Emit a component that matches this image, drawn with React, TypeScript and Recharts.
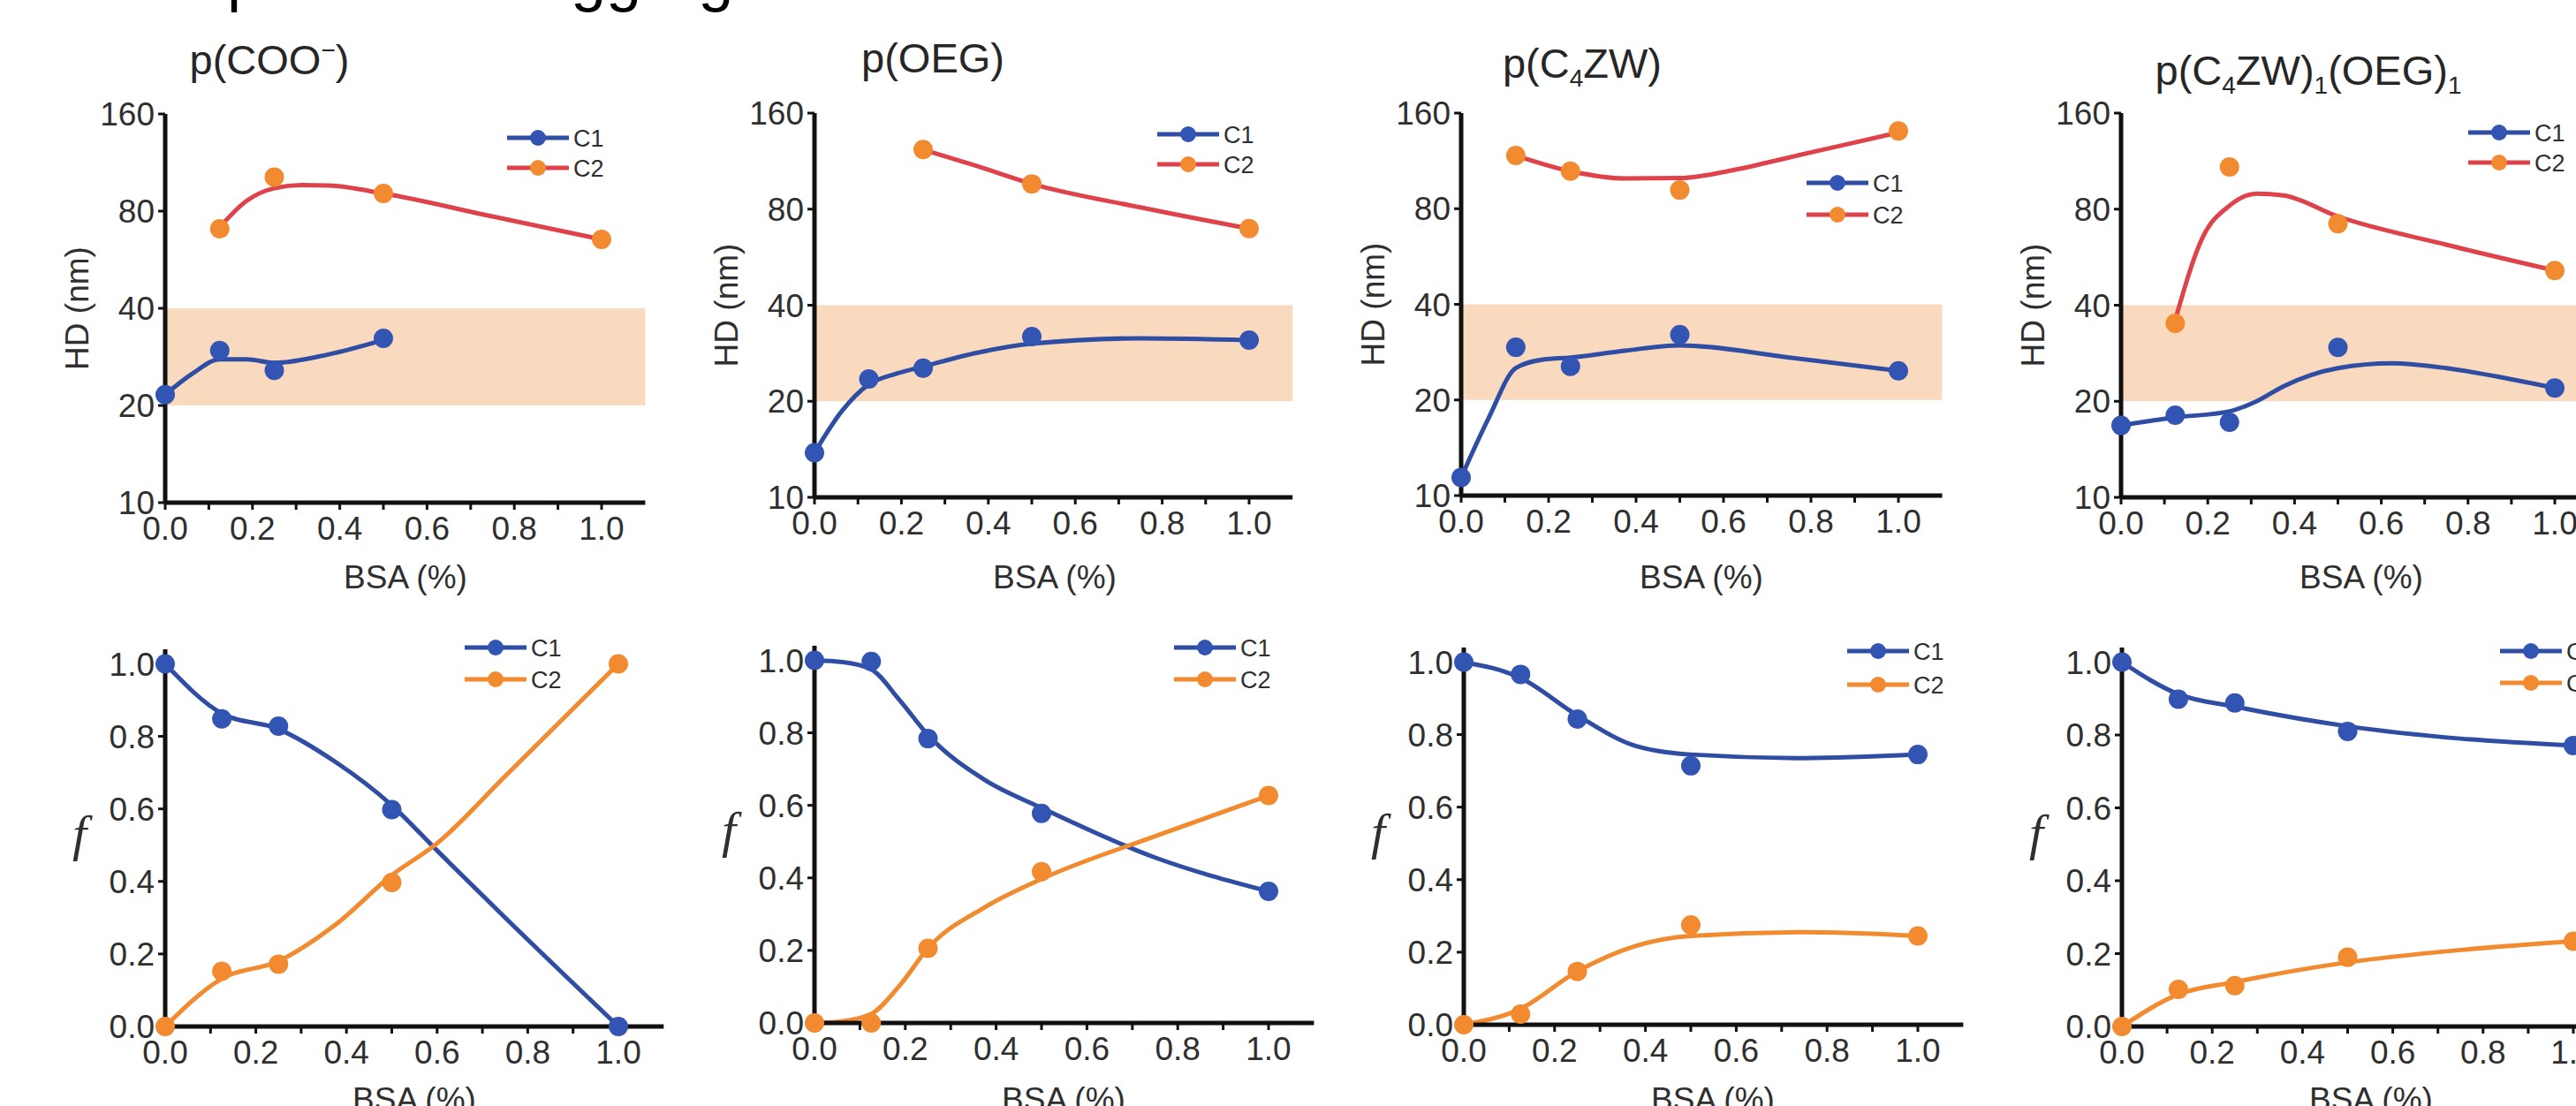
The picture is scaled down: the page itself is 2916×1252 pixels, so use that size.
import React from "react";
import { ComposedChart, Line, XAxis, YAxis, ReferenceArea, Legend } from "recharts";

const FONT = "'Liberation Sans', Arial, Helvetica, sans-serif";
const SERIF = "'Liberation Serif', 'Times New Roman', serif";
const INK = "#2f2f2f";
const BLUE = "#2f4ea3";
const BLUE_DOT = "#3254b3";
const RED = "#de434b";
const ORANGE = "#f28a30";
const BAND = "#f9dabf";

// BSA concentrations (%) the samples were measured at
const BSA = [0, 0.125, 0.25, 0.5, 1.0];
const X_TICKS = [0, 0.1, 0.2, 0.3, 0.4, 0.5, 0.6, 0.7, 0.8, 0.9, 1.0];
const HD_TICKS = [10, 20, 40, 80, 160];
const F_TICKS = [0, 0.2, 0.4, 0.6, 0.8, 1.0];
const HD_BAND = [20, 40];

// hydrodynamic diameter (nm) per population, null = population not seen
const HD_COO_C1 = [21.6, 29.6, 25.7, 32.3, null];
const HD_COO_C2 = [null, 70.5, 102, 90.7, 65.4];
const HD_OEG_C1 = [13.8, 23.5, 25.4, 31.9, 31.1];
const HD_OEG_C2 = [null, null, 123, 96, 69.5];
const HD_ZW_C1 = [11.4, 29.3, 25.5, 32.1, 24.7];
const HD_ZW_C2 = [null, 117.6, 105, 91.6, 140.5];
const HD_MIX_C1 = [16.8, 18.1, 17.2, 29.5, 22.0];
const HD_MIX_C2 = [null, 35.1, 108.5, 72, 51.4];

// fitted curves (x, y)
const HD_COO_C1_FX = [0, 0.0625, 0.125, 0.1875, 0.25, 0.375, 0.5];
const HD_COO_C1_FY = [21.6, 25.1, 27.8, 27.8, 27.1, 28.8, 31.9];
const HD_COO_C2_FX = [0.125, 0.1875, 0.25, 0.3125, 0.375, 0.5, 0.75, 1.0];
const HD_COO_C2_FY = [71.4, 86.3, 94.2, 96.3, 96, 90.7, 77, 65.4];
const HD_OEG_C1_FX = [0, 0.0625, 0.125, 0.1875, 0.25, 0.375, 0.5, 0.75, 1.0];
const HD_OEG_C1_FY = [13.8, 18.6, 22.6, 24.4, 25.7, 28.4, 30.3, 31.5, 31.1];
const HD_OEG_C2_FX = [0.25, 0.375, 0.5, 0.75, 1.0];
const HD_OEG_C2_FY = [123, 109, 96, 81, 69.5];
const HD_ZW_C1_FX = [0, 0.0625, 0.125, 0.1875, 0.25, 0.375, 0.5, 0.75, 1.0];
const HD_ZW_C1_FY = [11.4, 17.5, 25.2, 26.8, 27.2, 28.6, 29.7, 27.2, 24.7];
const HD_ZW_C2_FX = [0.125, 0.25, 0.375, 0.5, 0.625, 0.75, 0.875, 1.0];
const HD_ZW_C2_FY = [117.6, 105, 99.6, 99.9, 106, 116, 127, 139];
const HD_MIX_C1_FX = [0, 0.125, 0.25, 0.3125, 0.375, 0.5, 0.625, 0.75, 0.875, 1.0];
const HD_MIX_C1_FY = [16.8, 17.8, 18.6, 20.0, 22.3, 25.4, 26.3, 25.4, 23.8, 22.0];
const HD_MIX_C2_FX = [0.125, 0.1875, 0.25, 0.3125, 0.375, 0.5, 0.75, 1.0];
const HD_MIX_C2_FY = [36, 65, 82, 89.5, 88.3, 75.9, 61.9, 51.4];

// population fraction f
const F_COO_C1 = [1.0, 0.848, 0.828, 0.598, 0.0];
const F_COO_C2 = [0, 0.152, 0.172, 0.397, 1.0];
const F_OEG_C1 = [1.0, 0.997, 0.784, 0.578, 0.363];
const F_OEG_C2 = [0, 0, 0.206, 0.417, 0.627];
const F_ZW_C1 = [1.0, 0.966, 0.843, 0.714, 0.745];
const F_ZW_C2 = [0, 0.029, 0.147, 0.275, 0.245];
const F_MIX_C1 = [1.0, 0.898, 0.888, 0.81, 0.771];
const F_MIX_C2 = [0, 0.102, 0.112, 0.19, 0.234];

const F_COO_FX = [0, 0.125, 0.25, 0.375, 0.5, 0.6, 0.75, 1.0];
const F_COO_C1_FY = [1.0, 0.863, 0.82, 0.73, 0.61, 0.485, 0.3, 0.0];
const F_COO_C2_FY = [0, 0.132, 0.18, 0.28, 0.417, 0.505, 0.69, 1.0];
const F_OEG_FX = [0, 0.0625, 0.125, 0.1875, 0.25, 0.375, 0.5, 0.75, 1.0];
const F_OEG_C1_FY = [1.0, 0.995, 0.975, 0.89, 0.794, 0.67, 0.593, 0.456, 0.363];
const F_OEG_C2_FY = [0, 0.005, 0.025, 0.103, 0.206, 0.319, 0.397, 0.515, 0.627];
const F_ZW_FX = [0, 0.125, 0.25, 0.375, 0.5, 0.75, 1.0];
const F_ZW_C1_FY = [1.0, 0.956, 0.853, 0.77, 0.745, 0.735, 0.745];
const F_ZW_C2_FY = [0, 0.044, 0.147, 0.216, 0.245, 0.255, 0.245];
const F_MIX_FX = [0, 0.125, 0.25, 0.5, 0.75, 1.0];
const F_MIX_C1_FY = [1.0, 0.912, 0.878, 0.824, 0.79, 0.771];
const F_MIX_C2_FY = [0, 0.088, 0.122, 0.176, 0.21, 0.234];

type Pt = { x: number; y: number };

const toPts = (ys: (number | null)[]): Pt[] =>
  BSA.map((x, i) => ({ x, y: ys[i] as number })).filter((p) => p.y !== null);
const toFit = (xs: number[], ys: number[]): Pt[] => xs.map((x, i) => ({ x, y: ys[i] }));

const YW = 120;
const MT = 30;
const MR = 30;
const XH = 90;

interface PanelSpec {
  kind: "hd" | "f";
  px: number; // y-axis position
  py: number; // top of plot
  unit: number; // px per 1.0 BSA
  ph: number; // plot height
  c1: Pt[];
  c2: Pt[];
  fit1: Pt[];
  fit2: Pt[];
  legendX: number;
  legendY: number;
  legendGap: number;
}

// only the two fitted series carry a legend row (C1, C2)
function LegendKey({ payload, dots, gap }: any) {
  const rows = (payload ?? []).filter(
    (e: any) => e.type !== "none" && (e.value === "C1" || e.value === "C2")
  );
  return (
    <svg width={140} height={80} style={{ overflow: "visible" }}>
      {rows.map((entry: any, i: number) => (
        <g key={entry.value} transform={`translate(0, ${12 + i * gap})`}>
          <line x1={0} x2={70} y1={0} y2={0} stroke={entry.color} strokeWidth={5} />
          <circle cx={35} cy={0} r={9} fill={dots[i]} />
          <text x={75} y={0} dy="0.36em" fontSize={27} fill={INK} fontFamily={FONT}>
            {entry.value}
          </text>
        </g>
      ))}
    </svg>
  );
}

function Panel({ spec }: { spec: PanelSpec }) {
  const isHD = spec.kind === "hd";
  const width = YW + spec.unit * 1.1 + MR;
  const height = MT + spec.ph + XH;
  const left = spec.px - YW;
  const top = spec.py - MT;
  const c2Line = isHD ? RED : ORANGE;
  const tickStyle = { fontSize: 37, fill: INK, fontFamily: FONT };

  return (
    <div style={{ position: "absolute", left, top, width, height }}>
      <ComposedChart width={width} height={height} margin={{ top: MT, right: MR, left: 0, bottom: 0 }}>
        <XAxis
          type="number"
          dataKey="x"
          domain={[0, 1.1]}
          ticks={X_TICKS}
          interval={0}
          height={XH}
          tickFormatter={(v: number, i: number) => (i % 2 === 0 ? v.toFixed(1) : "")}
          tick={tickStyle}
          tickSize={8}
          tickMargin={8}
          tickLine={{ stroke: "#111", strokeWidth: 3 }}
          axisLine={{ stroke: "#111", strokeWidth: 5 }}
        />
        {isHD ? (
          <YAxis
            type="number"
            scale="log"
            domain={[10, 160]}
            ticks={HD_TICKS}
            interval={0}
            width={YW}
            tickFormatter={(v: number) => String(v)}
            tick={tickStyle}
            tickSize={8}
            tickMargin={4}
            tickLine={{ stroke: "#111", strokeWidth: 3 }}
            axisLine={{ stroke: "#111", strokeWidth: 5 }}
          />
        ) : (
          <YAxis
            type="number"
            domain={[0, 1.04]}
            ticks={F_TICKS}
            interval={0}
            width={YW}
            tickFormatter={(v: number) => v.toFixed(1)}
            tick={tickStyle}
            tickSize={8}
            tickMargin={4}
            tickLine={{ stroke: "#111", strokeWidth: 3 }}
            axisLine={{ stroke: "#111", strokeWidth: 5 }}
          />
        )}
        {isHD && (
          <ReferenceArea
            x1={0}
            x2={1.1}
            y1={HD_BAND[0]}
            y2={HD_BAND[1]}
            fill={BAND}
            fillOpacity={1}
            stroke="none"
          />
        )}
        <Line
          data={spec.fit1}
          dataKey="y"
          name="C1"
          type="monotone"
          stroke={BLUE}
          strokeWidth={5}
          dot={false}
          activeDot={false}
          isAnimationActive={false}
        />
        <Line
          data={spec.fit2}
          dataKey="y"
          name="C2"
          type="monotone"
          stroke={c2Line}
          strokeWidth={5}
          dot={false}
          activeDot={false}
          isAnimationActive={false}
        />
        <Line
          data={spec.c1}
          dataKey="y"
          name="C1 data"
          stroke="none"
          dot={{ r: 11, fill: BLUE_DOT, stroke: "none" }}
          activeDot={false}
          legendType="none"
          isAnimationActive={false}
        />
        <Line
          data={spec.c2}
          dataKey="y"
          name="C2 data"
          stroke="none"
          dot={{ r: 11, fill: ORANGE, stroke: "none" }}
          activeDot={false}
          legendType="none"
          isAnimationActive={false}
        />
        <Legend
          layout="vertical"
          align="center"
          verticalAlign="middle"
          content={<LegendKey dots={[BLUE_DOT, ORANGE]} gap={spec.legendGap} />}
          wrapperStyle={{
            left: spec.legendX - left,
            top: spec.legendY - top - 12,
            width: 140,
            height: 80,
          }}
        />
      </ComposedChart>
    </div>
  );
}

const PANELS: PanelSpec[] = [
  { kind: "hd", px: 187, py: 129, unit: 494, ph: 440, c1: toPts(HD_COO_C1), c2: toPts(HD_COO_C2), fit1: toFit(HD_COO_C1_FX, HD_COO_C1_FY), fit2: toFit(HD_COO_C2_FX, HD_COO_C2_FY), legendX: 574, legendY: 156, legendGap: 34 },
  { kind: "hd", px: 922, py: 128, unit: 492, ph: 435, c1: toPts(HD_OEG_C1), c2: toPts(HD_OEG_C2), fit1: toFit(HD_OEG_C1_FX, HD_OEG_C1_FY), fit2: toFit(HD_OEG_C2_FX, HD_OEG_C2_FY), legendX: 1310, legendY: 152, legendGap: 34 },
  { kind: "hd", px: 1654, py: 128, unit: 495, ph: 433, c1: toPts(HD_ZW_C1), c2: toPts(HD_ZW_C2), fit1: toFit(HD_ZW_C1_FX, HD_ZW_C1_FY), fit2: toFit(HD_ZW_C2_FX, HD_ZW_C2_FY), legendX: 2045, legendY: 207, legendGap: 36 },
  { kind: "hd", px: 2401, py: 128, unit: 491, ph: 435, c1: toPts(HD_MIX_C1), c2: toPts(HD_MIX_C2), fit1: toFit(HD_MIX_C1_FX, HD_MIX_C1_FY), fit2: toFit(HD_MIX_C2_FX, HD_MIX_C2_FY), legendX: 2794, legendY: 150, legendGap: 34 },
  { kind: "f", px: 187, py: 735, unit: 513, ph: 427, c1: toPts(F_COO_C1), c2: toPts(F_COO_C2), fit1: toFit(F_COO_FX, F_COO_C1_FY), fit2: toFit(F_COO_FX, F_COO_C2_FY), legendX: 526, legendY: 733, legendGap: 36 },
  { kind: "f", px: 922, py: 731, unit: 514, ph: 427, c1: toPts(F_OEG_C1), c2: toPts(F_OEG_C2), fit1: toFit(F_OEG_FX, F_OEG_C1_FY), fit2: toFit(F_OEG_FX, F_OEG_C2_FY), legendX: 1329, legendY: 733, legendGap: 36 },
  { kind: "f", px: 1657, py: 733, unit: 514, ph: 427, c1: toPts(F_ZW_C1), c2: toPts(F_ZW_C2), fit1: toFit(F_ZW_FX, F_ZW_C1_FY), fit2: toFit(F_ZW_FX, F_ZW_C2_FY), legendX: 2091, legendY: 737, legendGap: 38 },
  { kind: "f", px: 2402, py: 733, unit: 511, ph: 429, c1: toPts(F_MIX_C1), c2: toPts(F_MIX_C2), fit1: toFit(F_MIX_FX, F_MIX_C1_FY), fit2: toFit(F_MIX_FX, F_MIX_C2_FY), legendX: 2830, legendY: 737, legendGap: 36 },
];

const TITLE_SIZE = 47;
const SUB = 28;

function Titles() {
  const t = { fontSize: TITLE_SIZE, fill: "#262626", fontFamily: FONT, textAnchor: "middle" as const };
  return (
    <>
      <text x={305} y={84} {...t}>
        p(COO<tspan dy={-18} fontSize={SUB}>−</tspan>
        <tspan dy={18}>)</tspan>
      </text>
      <text x={1056} y={82} {...t}>p(OEG)</text>
      <text x={1791} y={88} {...t}>
        p(C<tspan dy={10} fontSize={SUB}>4</tspan>
        <tspan dy={-10}>ZW)</tspan>
      </text>
      <text x={2613} y={96} {...t}>
        p(C<tspan dy={10} fontSize={SUB}>4</tspan>
        <tspan dy={-10}>ZW)</tspan>
        <tspan dy={10} fontSize={SUB}>1</tspan>
        <tspan dy={-10}>(OEG)</tspan>
        <tspan dy={10} fontSize={SUB}>1</tspan>
      </text>
    </>
  );
}

function AxisTitles() {
  const lab = { fontSize: 37, fill: INK, fontFamily: FONT, textAnchor: "middle" as const };
  return (
    <>
      {PANELS.map((p, i) => {
        const midY = p.py + p.ph / 2;
        const bsaY = p.kind === "hd" ? 653 : 1244;
        const bsaX = p.px + (p.kind === "hd" ? 272 : 282);
        return (
          <g key={i}>
            {p.kind === "hd" ? (
              <text transform={`translate(${p.px - 100}, ${midY}) rotate(-90)`} dy="0.36em" {...lab}>
                HD (nm)
              </text>
            ) : (
              <text
                x={p.px - 97}
                y={midY + 14}
                fontSize={58}
                fontStyle="italic"
                fontFamily={SERIF}
                fill={INK}
                textAnchor="middle"
              >
                f
              </text>
            )}
            <text x={bsaX} y={bsaY} dy="0.36em" {...lab}>
              BSA (%)
            </text>
          </g>
        );
      })}
    </>
  );
}

export default function App() {
  return (
    <div
      style={{
        position: "absolute",
        left: 0,
        top: 0,
        width: 2916,
        height: 1252,
        overflow: "hidden",
        background: "#fff",
      }}
    >
      {PANELS.map((p, i) => (
        <Panel key={i} spec={p} />
      ))}
      <svg
        width={2916}
        height={1252}
        style={{ position: "absolute", left: 0, top: 0, pointerEvents: "none" }}
      >
        {/* heading above the figure, only its descenders fall inside the crop */}
        <text x={257} y={-1} fontSize={72} fill="#000" fontFamily={FONT}>protein</text>
        <text x={606} y={-1} fontSize={72} fill="#000" fontFamily={FONT}>aggregation</text>
        <Titles />
        <AxisTitles />
      </svg>
    </div>
  );
}
